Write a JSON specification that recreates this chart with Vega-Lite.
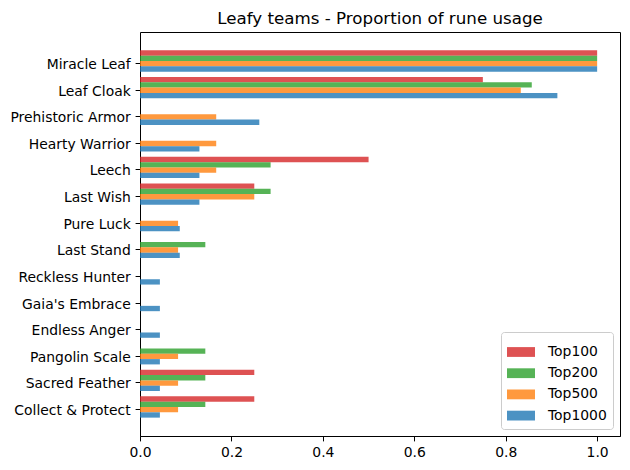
{
  "$schema": "https://vega.github.io/schema/vega-lite/v6.json",
  "width": 480,
  "height": 404,
  "autosize": {"type": "none"},
  "padding": {"left": 140, "top": 32, "right": 10, "bottom": 34},
  "background": "white",
  "title": {"text": "Leafy teams - Proportion of rune usage", "font": "DejaVu Sans", "fontSize": 16.7, "fontWeight": "normal", "color": "black", "offset": 4},
  "config": {
    "font": "DejaVu Sans",
    "view": {"stroke": "black", "strokeWidth": 1}
  },
  "data": {"values": [
    {"rune": "Miracle Leaf", "group": "Top100", "value": 1},
    {"rune": "Miracle Leaf", "group": "Top200", "value": 1},
    {"rune": "Miracle Leaf", "group": "Top500", "value": 1},
    {"rune": "Miracle Leaf", "group": "Top1000", "value": 1},
    {"rune": "Leaf Cloak", "group": "Top100", "value": 0.75},
    {"rune": "Leaf Cloak", "group": "Top200", "value": 0.857},
    {"rune": "Leaf Cloak", "group": "Top500", "value": 0.833},
    {"rune": "Leaf Cloak", "group": "Top1000", "value": 0.913},
    {"rune": "Prehistoric Armor", "group": "Top100", "value": 0},
    {"rune": "Prehistoric Armor", "group": "Top200", "value": 0},
    {"rune": "Prehistoric Armor", "group": "Top500", "value": 0.1667},
    {"rune": "Prehistoric Armor", "group": "Top1000", "value": 0.261},
    {"rune": "Hearty Warrior", "group": "Top100", "value": 0},
    {"rune": "Hearty Warrior", "group": "Top200", "value": 0},
    {"rune": "Hearty Warrior", "group": "Top500", "value": 0.1667},
    {"rune": "Hearty Warrior", "group": "Top1000", "value": 0.130},
    {"rune": "Leech", "group": "Top100", "value": 0.5},
    {"rune": "Leech", "group": "Top200", "value": 0.2857},
    {"rune": "Leech", "group": "Top500", "value": 0.1667},
    {"rune": "Leech", "group": "Top1000", "value": 0.130},
    {"rune": "Last Wish", "group": "Top100", "value": 0.25},
    {"rune": "Last Wish", "group": "Top200", "value": 0.2857},
    {"rune": "Last Wish", "group": "Top500", "value": 0.25},
    {"rune": "Last Wish", "group": "Top1000", "value": 0.130},
    {"rune": "Pure Luck", "group": "Top100", "value": 0},
    {"rune": "Pure Luck", "group": "Top200", "value": 0},
    {"rune": "Pure Luck", "group": "Top500", "value": 0.0833},
    {"rune": "Pure Luck", "group": "Top1000", "value": 0.087},
    {"rune": "Last Stand", "group": "Top100", "value": 0},
    {"rune": "Last Stand", "group": "Top200", "value": 0.1429},
    {"rune": "Last Stand", "group": "Top500", "value": 0.0833},
    {"rune": "Last Stand", "group": "Top1000", "value": 0.087},
    {"rune": "Reckless Hunter", "group": "Top100", "value": 0},
    {"rune": "Reckless Hunter", "group": "Top200", "value": 0},
    {"rune": "Reckless Hunter", "group": "Top500", "value": 0},
    {"rune": "Reckless Hunter", "group": "Top1000", "value": 0.0435},
    {"rune": "Gaia's Embrace", "group": "Top100", "value": 0},
    {"rune": "Gaia's Embrace", "group": "Top200", "value": 0},
    {"rune": "Gaia's Embrace", "group": "Top500", "value": 0},
    {"rune": "Gaia's Embrace", "group": "Top1000", "value": 0.0435},
    {"rune": "Endless Anger", "group": "Top100", "value": 0},
    {"rune": "Endless Anger", "group": "Top200", "value": 0},
    {"rune": "Endless Anger", "group": "Top500", "value": 0},
    {"rune": "Endless Anger", "group": "Top1000", "value": 0.0435},
    {"rune": "Pangolin Scale", "group": "Top100", "value": 0},
    {"rune": "Pangolin Scale", "group": "Top200", "value": 0.1429},
    {"rune": "Pangolin Scale", "group": "Top500", "value": 0.0833},
    {"rune": "Pangolin Scale", "group": "Top1000", "value": 0.0435},
    {"rune": "Sacred Feather", "group": "Top100", "value": 0.25},
    {"rune": "Sacred Feather", "group": "Top200", "value": 0.1429},
    {"rune": "Sacred Feather", "group": "Top500", "value": 0.0833},
    {"rune": "Sacred Feather", "group": "Top1000", "value": 0.0435},
    {"rune": "Collect & Protect", "group": "Top100", "value": 0.25},
    {"rune": "Collect & Protect", "group": "Top200", "value": 0.1429},
    {"rune": "Collect & Protect", "group": "Top500", "value": 0.0833},
    {"rune": "Collect & Protect", "group": "Top1000", "value": 0.0435}
  ]},
  "mark": {"type": "bar", "opacity": 0.8},
  "encoding": {
    "y": {
      "field": "rune", "type": "nominal", "sort": null,
      "scale": {"paddingInner": 0.2, "paddingOuter": 0.69},
      "axis": {"title": null, "domain": false, "tickOffset": 2, "labelOffset": 1.5, "labelFontSize": 13.9, "labelColor": "black", "tickColor": "black", "tickSize": 4.9, "labelPadding": 4.9, "grid": false, "labelFont": "DejaVu Sans"}
    },
    "yOffset": {
      "field": "group", "type": "nominal",
      "sort": ["Top100", "Top200", "Top500", "Top1000"],
      "scale": {"paddingInner": 0, "paddingOuter": 0}
    },
    "x": {
      "field": "value", "type": "quantitative",
      "scale": {"domain": [0, 1.05], "nice": false, "zero": true},
      "axis": {"title": null, "values": [0, 0.2, 0.4, 0.6, 0.8, 1.0], "format": ".1f", "labelFontSize": 13.9, "labelColor": "black", "tickColor": "black", "domainColor": "black", "tickSize": 4.9, "labelPadding": 4.9, "grid": false, "labelFont": "DejaVu Sans", "labelFlush": false}
    },
    "color": {
      "field": "group", "type": "nominal",
      "sort": ["Top100", "Top200", "Top500", "Top1000"],
      "scale": {"domain": ["Top100", "Top200", "Top500", "Top1000"], "range": ["#d62728", "#2ca02c", "#ff7f0e", "#1f77b4"]},
      "legend": {
        "title": null, "orient": "bottom-right", "offset": 7,
        "symbolType": "M-1,-0.35h2v0.7h-2z", "symbolSize": 784, "symbolOpacity": 0.8,
        "symbolStrokeWidth": 0,
        "labelFontSize": 13.9, "labelColor": "black", "labelFont": "DejaVu Sans", "labelOffset": 13,
        "rowPadding": 0.2, "padding": 6,
        "strokeColor": "#cccccc", "fillColor": "white", "cornerRadius": 3
      }
    }
  }
}
